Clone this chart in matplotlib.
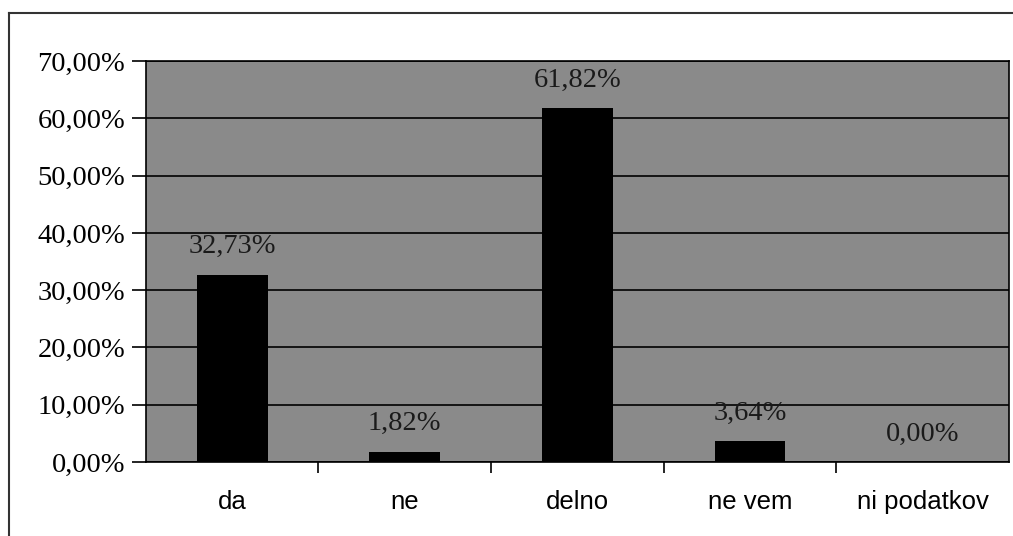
"""
    Bar chart of answers (share of respondents) on a gray plot area.
"""

import matplotlib
matplotlib.use('Agg')
import matplotlib.pyplot as plt
import matplotlib.lines as lines
from matplotlib.ticker import FuncFormatter, MultipleLocator


# Data.
categories = ['da', 'ne', 'delno', 'ne vem', 'ni podatkov']
shares = [32.73, 1.82, 61.82, 3.64, 0.00]
value_labels = ['32,73%', '1,82%', '61,82%', '3,64%', '0,00%']


def pct(v, pos):
    return ('%.2f%%' % v).replace('.', ',')


fig = plt.figure(figsize=(10.13, 5.36), dpi=100)
ax = fig.add_axes([0.144, 0.138, 0.852, 0.748])
ax.set_facecolor('#8a8a8a')

x = range(len(categories))
ax.bar(x, shares, width=0.41, color='black', zorder=3)

ax.set_xlim(-0.5, len(categories) - 0.5)
ax.set_ylim(0, 70)
ax.yaxis.set_major_locator(MultipleLocator(10))
ax.yaxis.set_major_formatter(FuncFormatter(pct))
ax.yaxis.grid(True, color='black', linewidth=1.2, zorder=1)
ax.set_axisbelow(True)

# Category labels centred, tick marks at category borders.
ax.set_xticks(list(x))
ax.set_xticklabels(categories, family='Liberation Sans', fontsize=18.5)
ax.set_xticks([i + 0.5 for i in range(len(categories) - 1)], minor=True)
ax.tick_params(axis='x', which='major', length=0, pad=20)
ax.tick_params(axis='x', which='minor', length=8, width=1.2, direction='out')
ax.tick_params(axis='y', length=10, width=1.2, pad=5)
for t in ax.get_yticklabels():
    t.set_family('Liberation Serif')
    t.set_fontsize(20.5)

for s in ax.spines.values():
    s.set_linewidth(1.2)
    s.set_color('black')

# Value labels above bars.
for i, (v, lab) in enumerate(zip(shares, value_labels)):
    ax.annotate(lab, (i, v), xytext=(0, 20), textcoords='offset points',
                ha='center', va='center', family='Liberation Serif',
                fontsize=20.5, color='#1a1a1a', zorder=4)

# Outer chart frame (top and left edges visible in the scan).
fig.add_artist(lines.Line2D([0.009, 1.0], [0.976, 0.976], color='#333333', linewidth=1.5))
fig.add_artist(lines.Line2D([0.009, 0.009], [0.0, 0.976], color='#333333', linewidth=1.5))

plt.savefig('out.png', dpi=100)
plt.close()
